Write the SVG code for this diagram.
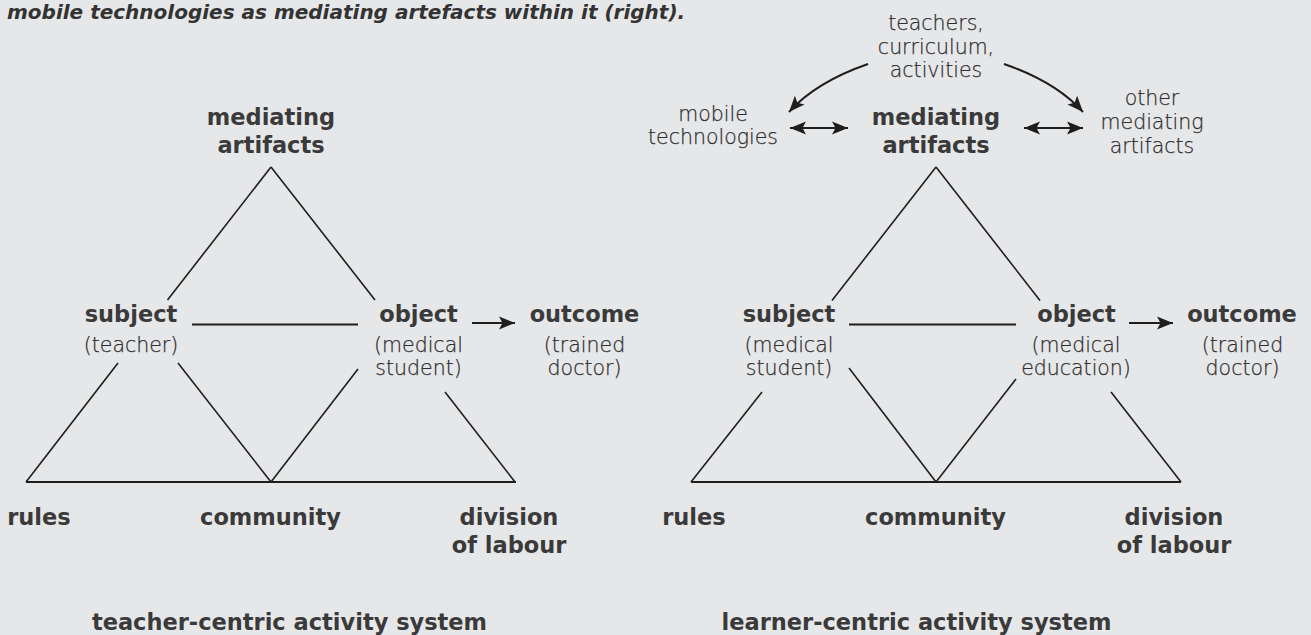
<svg xmlns="http://www.w3.org/2000/svg" width="1311" height="635" viewBox="0 0 1311 635">
<style>
.b{font-family:"DejaVu Sans","Liberation Sans",sans-serif;font-weight:bold;font-size:22.5px;fill:#3a3a3a;text-anchor:middle}
.r{font-family:"DejaVu Sans","Liberation Sans",sans-serif;font-weight:200;font-size:20.5px;fill:#2e2e2e;stroke:#2e2e2e;stroke-width:0.25;text-anchor:middle}
.cap{font-family:"DejaVu Sans","Liberation Sans",sans-serif;font-weight:bold;font-style:italic;font-size:20px;fill:#333}
.ln{stroke:#1e1e1e;stroke-width:1.6;fill:none}
.hl{stroke:#1e1e1e;stroke-width:2;fill:none}
.ar{stroke:#1e1e1e;stroke-width:2;fill:none}
</style>
<defs>
<marker id="ah" markerUnits="userSpaceOnUse" markerWidth="18" markerHeight="14" refX="16" refY="7" orient="auto-start-reverse">
<path d="M0,0.5 L16,7 L0,13.5 L3.5,7 z" fill="#1e1e1e"/>
</marker>
</defs>
<rect width="1311" height="635" fill="#e6e7e9"/>
<text class="cap" x="7" y="19">mobile technologies as mediating artefacts within it (right).</text>

<g id="connectors">
<!-- left system -->
<line class="ln" x1="271" y1="167" x2="167.5" y2="300"/>
<line class="ln" x1="271" y1="167" x2="375" y2="300"/>
<line class="hl" x1="192" y1="324.5" x2="358" y2="324.5"/>
<line class="ar" x1="472" y1="323" x2="515" y2="323" marker-end="url(#ah)"/>
<line class="ln" x1="118" y1="363" x2="26" y2="482"/>
<line class="ln" x1="178" y1="363" x2="271" y2="482"/>
<line class="ln" x1="358" y1="369" x2="271" y2="482"/>
<line class="ln" x1="445" y1="392" x2="515" y2="482"/>
<line class="hl" x1="26" y1="482" x2="516" y2="482"/>
<!-- right system -->
<line class="ln" x1="936" y1="167" x2="832" y2="300.5"/>
<line class="ln" x1="936" y1="167" x2="1040" y2="300.5"/>
<line class="hl" x1="849" y1="324.5" x2="1016" y2="324.5"/>
<line class="ar" x1="1129" y1="323" x2="1173" y2="323" marker-end="url(#ah)"/>
<line class="ln" x1="762" y1="392" x2="691" y2="482"/>
<line class="ln" x1="849" y1="368" x2="936" y2="482"/>
<line class="ln" x1="1016" y1="379" x2="936" y2="482"/>
<line class="ln" x1="1111" y1="392" x2="1181" y2="482"/>
<line class="hl" x1="691" y1="482" x2="1181" y2="482"/>
<line class="ar" x1="790" y1="128" x2="848" y2="128" marker-start="url(#ah)" marker-end="url(#ah)"/>
<line class="ar" x1="1024" y1="128" x2="1083" y2="128" marker-start="url(#ah)" marker-end="url(#ah)"/>
<path class="ar" d="M868,64 Q816,82 789,112" marker-end="url(#ah)"/>
<path class="ar" d="M1004,64 Q1056,82 1083,112" marker-end="url(#ah)"/>
</g>

<g id="left-mediating"><text class="b" x="271" y="124.5">mediating</text><text class="b" x="271" y="152.5">artifacts</text></g>
<g id="left-subject"><text class="b" x="131" y="322">subject</text><text class="r" x="131" y="352">(teacher)</text></g>
<g id="left-object"><text class="b" x="418.5" y="322">object</text><text class="r" x="418.5" y="352">(medical</text><text class="r" x="418.5" y="375">student)</text></g>
<g id="left-outcome"><text class="b" x="584.5" y="322">outcome</text><text class="r" x="584.5" y="352">(trained</text><text class="r" x="584.5" y="375">doctor)</text></g>
<g id="left-rules"><text class="b" x="39" y="525">rules</text></g>
<g id="left-community"><text class="b" x="270.5" y="525">community</text></g>
<g id="left-division"><text class="b" x="509" y="525">division</text><text class="b" x="509" y="553">of labour</text></g>
<g id="left-title"><text class="b" x="289.5" y="630">teacher-centric activity system</text></g>

<g id="right-teachers"><text class="r" x="936" y="30">teachers,</text><text class="r" x="936" y="53.5">curriculum,</text><text class="r" x="936" y="77">activities</text></g>
<g id="right-mobile"><text class="r" x="713" y="120.5">mobile</text><text class="r" x="713" y="143.5">technologies</text></g>
<g id="right-mediating"><text class="b" x="936" y="124.5">mediating</text><text class="b" x="936" y="152.5">artifacts</text></g>
<g id="right-other"><text class="r" x="1152" y="105">other</text><text class="r" x="1152" y="129">mediating</text><text class="r" x="1152" y="153">artifacts</text></g>
<g id="right-subject"><text class="b" x="789" y="322">subject</text><text class="r" x="789" y="351.5">(medical</text><text class="r" x="789" y="375">student)</text></g>
<g id="right-object"><text class="b" x="1076.5" y="322">object</text><text class="r" x="1076" y="351.5">(medical</text><text class="r" x="1076" y="375">education)</text></g>
<g id="right-outcome"><text class="b" x="1242" y="322">outcome</text><text class="r" x="1242.5" y="351.5">(trained</text><text class="r" x="1242.5" y="375">doctor)</text></g>
<g id="right-rules"><text class="b" x="694" y="525">rules</text></g>
<g id="right-community"><text class="b" x="935.5" y="525">community</text></g>
<g id="right-division"><text class="b" x="1174" y="525">division</text><text class="b" x="1174" y="553">of labour</text></g>
<g id="right-title"><text class="b" x="916.5" y="630">learner-centric activity system</text></g>
</svg>
